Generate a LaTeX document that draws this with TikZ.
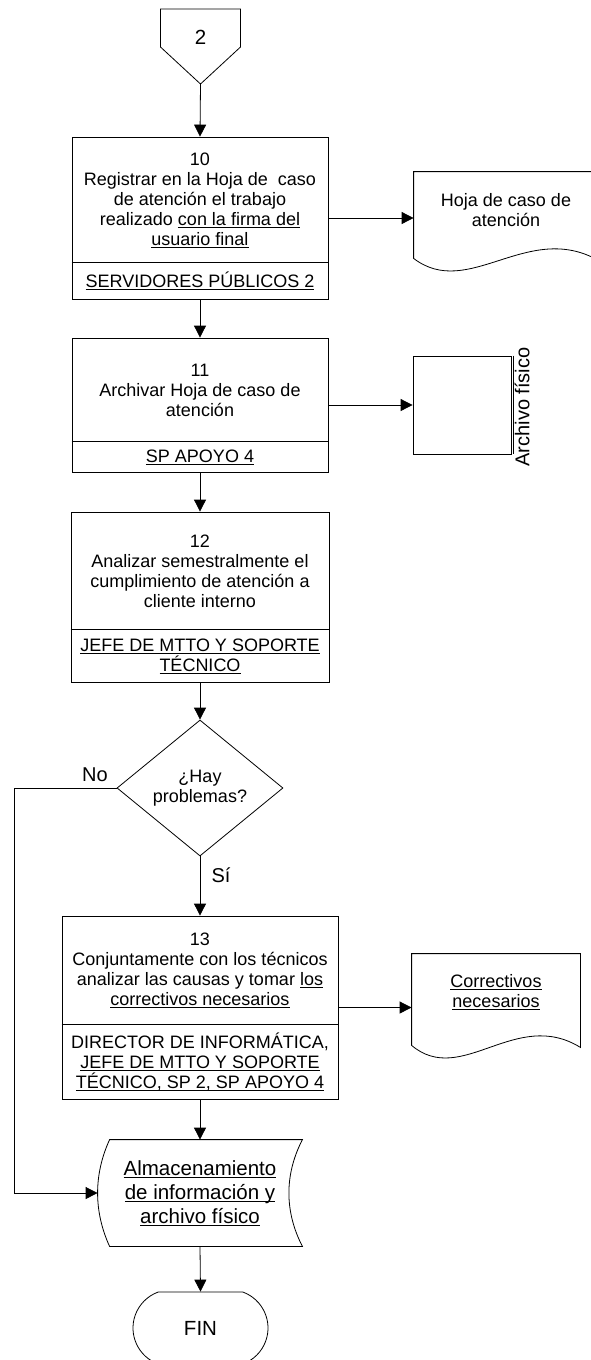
\documentclass[tikz,border=0pt]{standalone}
\usepackage{fontspec}
\setmainfont{Liberation Sans}
\usetikzlibrary{arrows.meta,shapes.geometric,shapes.misc,calc}
% underline at a fixed depth below the baseline
\newcommand\ulx[1]{\leavevmode\setbox0\hbox{#1}\rlap{\rule[-2.4pt]{\wd0}{0.75pt}}\box0}
\begin{document}
\begin{tikzpicture}[x=1pt,y=-1pt,
  line width=0.8pt,
  flow/.style={-{Triangle[length=12pt,width=12pt]}},
  box/.style={draw, rectangle, inner sep=0pt},
  blank/.style={rectangle, inner sep=0pt},
  txt/.style={align=center, inner sep=0pt, font=\fontsize{18}{20}\selectfont},
  big/.style={align=center, inner sep=0pt, font=\fontsize{20.5}{24}\selectfont},
]
\useasboundingbox (0,0) rectangle (590,1360);

% off-page connector
\node[big] (op) at (200.5,37) {2};
\coordinate (optip) at (200.5,84);
\draw (160.5,9) -- (240.5,9) -- (240.5,47) -- (optip) -- (160.5,47) -- cycle;

% step 10
\node[box, minimum width=256, minimum height=162] (p10) at (200,218) {};
\draw ($(p10.north west)+(0,126)$) -- ($(p10.north east)+(0,126)$);
\node[txt] (t10) at (200,200) {10\\Registrar en la Hoja de\ \ caso\\de atención el trabajo\\realizado \ulx{con la firma del}\\\ulx{usuario final}};
\node[txt] (r10) at (200,281) {\ulx{SERVIDORES PÚBLICOS 2}};

% document: Hoja de caso de atención
\node[blank, minimum width=184, minimum height=86] (d1) at (506,215) {};
\draw (d1.north west) -- (d1.north east) -- ($(d1.south east)+(0,2)$)
  .. controls ($(d1.south west)+(114,-38)$) and ($(d1.south west)+(55,42)$) .. (d1.south west) -- cycle;
\node[txt] (d1t) at (506,210) {Hoja de caso de\\atención};

% step 11
\node[box, minimum width=256, minimum height=134] (p11) at (200,405) {};
\draw ($(p11.north west)+(0,104)$) -- ($(p11.north east)+(0,104)$);
\node[txt] (t11) at (200,390) {11\\Archivar Hoja de caso de\\atención};
\node[txt] (r11) at (200,457) {\ulx{SP APOYO 4}};

% physical archive
\node[box, minimum width=98, minimum height=98] (arch) at (462,405) {};
\draw ($(arch.north east)+(2,0)$) -- ($(arch.south east)+(2,0)$);
\node[rotate=90, inner sep=0pt, font=\fontsize{20}{24}\selectfont] (archt) at (522,407) {Archivo físico};

% step 12
\node[box, minimum width=258, minimum height=170] (p12) at (200,597) {};
\draw ($(p12.north west)+(0,118)$) -- ($(p12.north east)+(0,118)$);
\node[txt] (t12) at (200,571) {12\\Analizar semestralmente el\\cumplimiento de atención a\\cliente interno};
\node[txt] (r12) at (200,656) {\ulx{JEFE DE MTTO Y SOPORTE}\\\ulx{TÉCNICO}};

% decision
\node[draw, diamond, txt, aspect=1.22, minimum width=166, minimum height=136] (dec) at (200,788) {¿Hay\\problemas?};
\node[inner sep=0pt, font=\fontsize{20}{24}\selectfont] (lno) at (95,775) {No};
\node[inner sep=0pt, font=\fontsize{20}{24}\selectfont] (lsi) at (221,875) {Sí};
\coordinate (noturn) at (14,788);

% step 13
\node[box, minimum width=276, minimum height=183] (p13) at (200,1007.5) {};
\draw ($(p13.north west)+(0,109)$) -- ($(p13.north east)+(0,109)$);
\node[txt] (t13) at (200,970.5) {13\\Conjuntamente con los técnicos\\analizar las causas y tomar \ulx{los}\\\ulx{correctivos necesarios}};
\node[txt] (r13) at (200,1062) {DIRECTOR DE INFORMÁTICA,\\\ulx{JEFE DE MTTO Y SOPORTE}\\\ulx{TÉCNICO, SP 2, SP APOYO 4}};

% document: Correctivos necesarios
\node[blank, minimum width=168, minimum height=91] (d2) at (496,999.5) {};
\draw (d2.north west) -- (d2.north east) -- ($(d2.south east)+(0,2)$)
  .. controls ($(d2.south west)+(104,-38)$) and ($(d2.south west)+(50,42)$) .. (d2.south west) -- cycle;
\node[txt] (d2t) at (496,992) {\ulx{Correctivos}\\\ulx{necesarios}};

% stored data
\node[big, minimum width=204, minimum height=106] (alm) at (200,1193) {\ulx{Almacenamiento}\\\ulx{de información y}\\\ulx{archivo físico}};
\draw ($(alm.north west)+(12,0)$) -- ($(alm.north east)$)
  .. controls ($(alm.north east)+(-18,35)$) and ($(alm.south east)+(-18,-35)$) .. (alm.south east)
  -- ($(alm.south west)+(12,0)$)
  .. controls ($(alm.south west)+(-4,-35)$) and ($(alm.north west)+(-4,35)$) .. ($(alm.north west)+(12,0)$) -- cycle;

% terminator
\node[draw, rounded rectangle, rounded rectangle arc length=140, big, minimum width=135, minimum height=72] (fin) at (200.5,1328) {FIN};

% connectors
\draw[flow] (optip) -- (p10.north);
\draw[flow] (p10.east) -- (p10.east -| d1.west);
\draw[flow] (p10.south) -- (p11.north);
\draw[flow] (p11.east) -- (arch.west);
\draw[flow] (p11.south) -- (p12.north);
\draw[flow] (p12.south) -- (dec.north);
\draw[flow] (dec.south) -- (p13.north);
\draw[flow] (p13.east) -- (p13.east -| d2.west);
\draw[flow] (p13.south) -- (alm.north);
\draw[flow] (dec.west) -- (noturn) |- (alm.west);
\draw[flow] (alm.south) -- (fin.north);
\end{tikzpicture}
\end{document}
